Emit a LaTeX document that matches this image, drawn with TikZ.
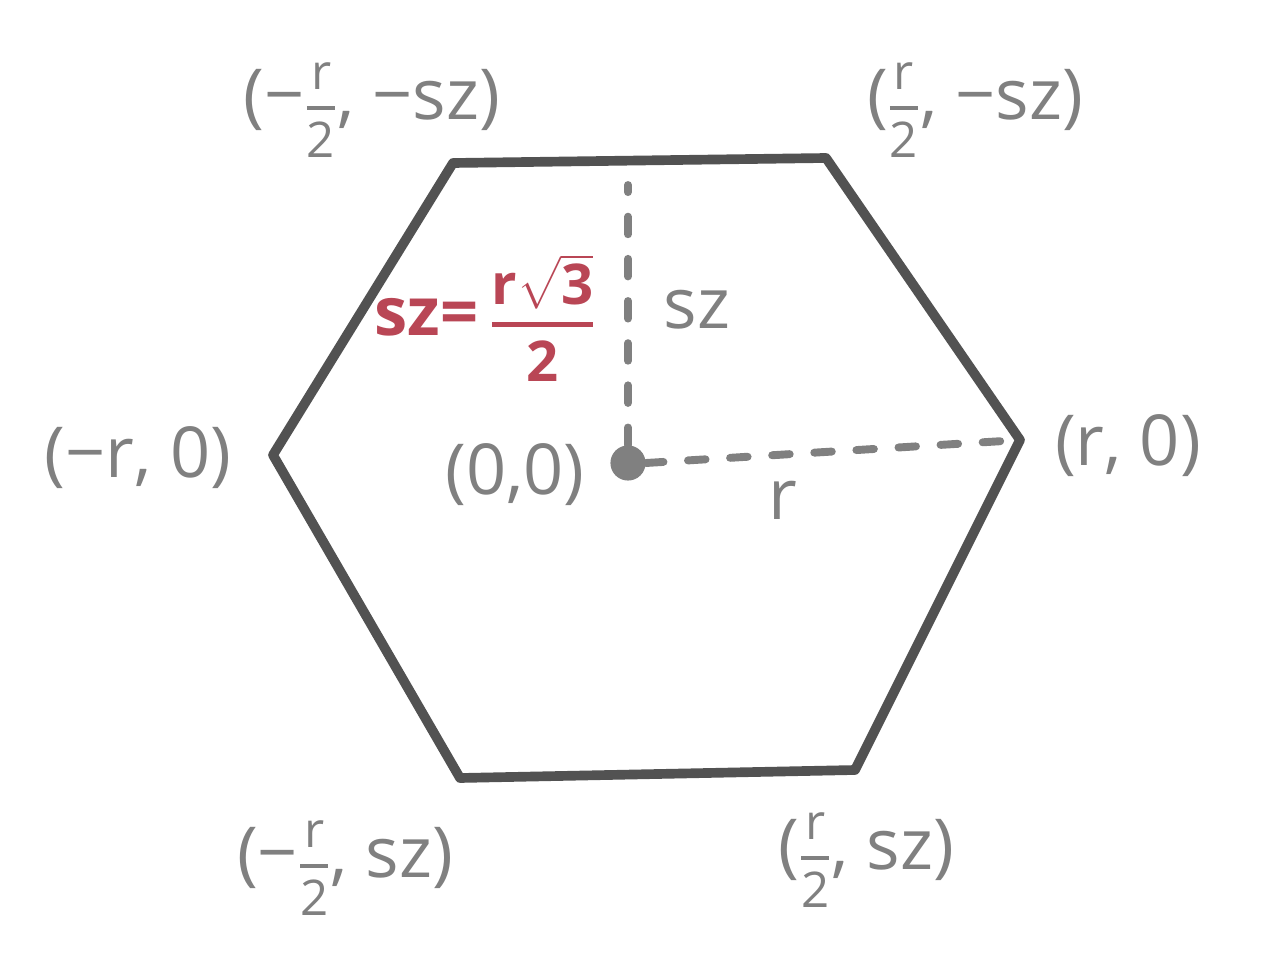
\documentclass[tikz,border=0pt]{standalone}
\usepackage{amsmath}
\usepackage{fontspec}
\setmainfont{Open Sans}
\newcommand{\myfr}[2]{\ensuremath{\genfrac{}{}{2.2pt}{0}{\mbox{\fontsize{28}{30}\selectfont #1}}{\mbox{\fontsize{28}{30}\selectfont #2}}}}
\newcommand{\myfrbig}[2]{\ensuremath{\genfrac{}{}{2.6pt}{0}{\mbox{\bfseries\fontsize{32}{34}\selectfont #1}}{\mbox{\bfseries\fontsize{32}{34}\selectfont #2}}}}
\begin{document}
\begin{tikzpicture}[x=0.02cm,y=-0.02cm,
  hexline/.style={draw=hexgray,line width=5.5pt,line join=round,line cap=round},
  guide/.style={draw=labgray,line width=4.5pt,dash pattern=on 10pt off 14pt,line cap=round},
  lab/.style={text=labgray,font=\fontsize{40}{46}\selectfont,inner sep=0pt},
  redlab/.style={text=redc,font=\bfseries\fontsize{38}{44}\selectfont,inner sep=0pt}]
\definecolor{hexgray}{RGB}{82,82,82}
\definecolor{labgray}{RGB}{128,128,128}
\definecolor{redc}{RGB}{185,70,85}
\useasboundingbox (0,0) rectangle (1261,963);
\fill[white] (0,0) rectangle (1261,963);
% hexagon vertices
\coordinate (v1) at (453,163);
\coordinate (v2) at (826,158);
\coordinate (v3) at (1020,440);
\coordinate (v4) at (855,770);
\coordinate (v5) at (460,778);
\coordinate (v6) at (273,455);
\draw[hexline] (v1) -- (v2) -- (v3) -- (v4) -- (v5) -- (v6) -- cycle;
% centre
\node[circle,fill=labgray,inner sep=0pt,minimum size=20] (c) at (628,463) {};
\coordinate (top) at (628,185);
\draw[guide] (c.north) -- (top);
\draw[guide] (c.east) -- (v3);
% labels
\node[lab] (ltl) at (372,110) {(−\myfr{r}{2}, −sz)};
\node[lab] (ltr) at (975,110) {(\myfr{r}{2}, −sz)};
\node[lab] (lml) at (138,458) {(−r, 0)};
\node[lab] (lmr) at (1128,446) {(r, 0)};
\node[lab] (lc) at (515,475) {(0,0)};
\node[lab] (lsz) at (697,310) {sz};
\node[lab] (lr) at (783,500) {r};
\node[lab] (lbl) at (345,868) {(−\myfr{r}{2}, sz)};
\node[lab] (lbr) at (866,860) {(\myfr{r}{2}, sz)};
\node[redlab] (lred) at (485,318) {sz=\,\myfrbig{r\ensuremath{\sqrt{\mbox{3}}}}{2}};
\end{tikzpicture}
\end{document}
